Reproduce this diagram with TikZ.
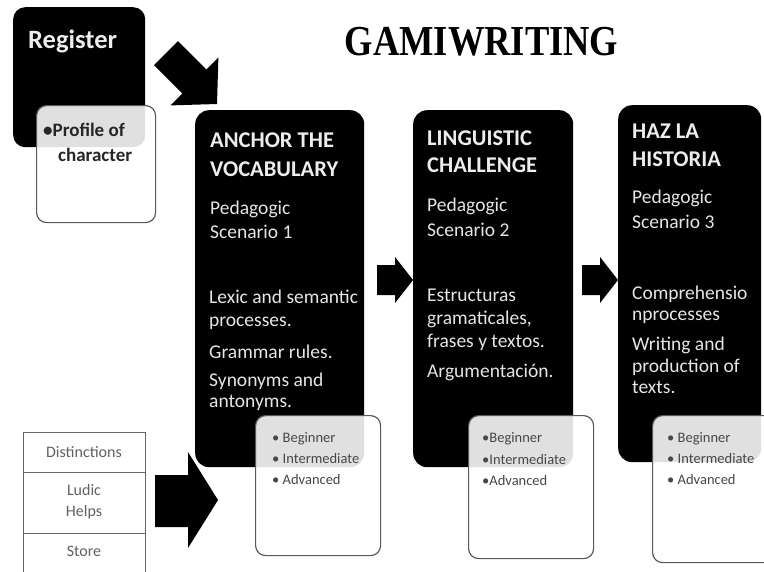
\documentclass[tikz,border=0pt]{standalone}
\usepackage{fontspec}
\setmainfont{Carlito}
\newfontfamily\titlefont{Liberation Serif}
\begin{document}
\begin{tikzpicture}[x=1pt,y=-1pt,
  mainbox/.style={fill=black, rounded corners=14pt, inner sep=0, anchor=north west},
  subbox/.style={draw=black!65, line width=1.2pt, fill=white, fill opacity=0.88, rounded corners=10pt, inner sep=0, anchor=north west},
  stackbox/.style={draw=black!60, line width=1.2pt, fill=white, inner sep=0, anchor=north west, minimum width=122pt},
  hd/.style={font=\fontsize{22.5}{27}\selectfont\bfseries, text=white!93!black, anchor=base west, inner sep=0},
  bd/.style={font=\fontsize{19.5}{24}\selectfont, text=white!90!black, anchor=base west, inner sep=0},
  bl/.style={font=\fontsize{14.5}{18}\selectfont, text=black!72, anchor=base west, inner sep=0},
  pf/.style={font=\fontsize{19}{23}\selectfont\bfseries, text=black!85, anchor=base west, inner sep=0},
  st/.style={font=\fontsize{16}{21}\selectfont, text=black!62, align=center, inner sep=0},
  blockarrow/.style={fill=black}]
\clip (0,0) rectangle (764,571);
\fill[white] (0,0) rectangle (764,571);

% title
\node[anchor=base, inner sep=0] (title) at (481.5,55) {\scalebox{1}[1.17]{\titlefont\fontsize{36.5}{40}\selectfont\bfseries GAMIWRITING}};

% register
\node[mainbox, rounded corners=12pt, minimum width=132pt, minimum height=140pt] (reg) at (13,7) {};
\node[subbox, minimum width=119pt, minimum height=117pt] (prof) at (36,105) {};
\node[font=\fontsize{26.5}{30}\selectfont\bfseries, text=white!93!black, anchor=base west, inner sep=0] (regt) at (28,48) {Register};
\node[pf] (proft1) at (43,136) {\textbullet Profile of};
\node[pf] (proft2) at (58,161) {character};

% main boxes
\node[mainbox, minimum width=169pt, minimum height=357pt] (b1) at (195,110) {};
\node[mainbox, minimum width=160pt, minimum height=357pt] (b2) at (413,110) {};
\node[mainbox, minimum width=143pt, minimum height=357pt] (b3) at (618,105) {};

% sub boxes
\node[subbox, minimum width=125pt, minimum height=140pt] (s1) at (255,415) {};
\node[subbox, minimum width=125pt, minimum height=143pt] (s2) at (468,415) {};
\node[subbox, minimum width=125pt, minimum height=147pt] (s3) at (652,415) {};

% box 1 text
\node[hd] (b1h1) at (210,147) {ANCHOR THE};
\node[hd] (b1h2) at (210,176) {VOCABULARY};
\node[bd] (b1p1) at (210,214) {Pedagogic};
\node[bd] (b1p2) at (210,238) {Scenario 1};
\node[bd] (b1c1) at (209,303) {Lexic and semantic};
\node[bd] (b1c2) at (209,326) {processes.};
\node[bd] (b1c3) at (209,358) {Grammar rules.};
\node[bd] (b1c4) at (209,386) {Synonyms and};
\node[bd] (b1c5) at (209,407) {antonyms.};

% box 2 text
\node[hd] (b2h1) at (427,145) {LINGUISTIC};
\node[hd] (b2h2) at (427,172) {CHALLENGE};
\node[bd] (b2p1) at (427,211) {Pedagogic};
\node[bd] (b2p2) at (427,236) {Scenario 2};
\node[bd] (b2c1) at (427,301) {Estructuras};
\node[bd] (b2c2) at (427,324) {gramaticales,};
\node[bd] (b2c3) at (427,347) {frases y textos.};
\node[bd] (b2c4) at (427,377) {Argumentación.};

% box 3 text
\node[hd] (b3h1) at (632,138) {HAZ LA};
\node[hd] (b3h2) at (632,166) {HISTORIA};
\node[bd] (b3p1) at (632,203) {Pedagogic};
\node[bd] (b3p2) at (632,228) {Scenario 3};
\node[bd] (b3c1) at (632,299) {Comprehensio};
\node[bd] (b3c2) at (632,320) {nprocesses};
\node[bd] (b3c3) at (632,350) {Writing and};
\node[bd] (b3c4) at (632,372) {production of};
\node[bd] (b3c5) at (632,393) {texts.};

% sub box bullets
\node[bl] (s1a) at (272,442) {\textbullet\ Beginner};
\node[bl] (s1b) at (272,463) {\textbullet\ Intermediate};
\node[bl] (s1c) at (272,484) {\textbullet\ Advanced};
\node[bl] (s2a) at (482,442) {\textbullet Beginner};
\node[bl] (s2b) at (482,464) {\textbullet Intermediate};
\node[bl] (s2c) at (482,485) {\textbullet Advanced};
\node[bl] (s3a) at (667,442) {\textbullet\ Beginner};
\node[bl] (s3b) at (667,463) {\textbullet\ Intermediate};
\node[bl] (s3c) at (667,484) {\textbullet\ Advanced};

% left stack
\node[stackbox, minimum height=40pt] (dist) at (23,432) {};
\node[stackbox, minimum height=61pt] (ludic) at (23,472) {};
\node[stackbox, minimum height=60pt] (store) at (23,533) {};
\node[st] (distt) at (84,452) {Distinctions};
\node[st] (ludict) at (84,502) {Ludic\\Helps};
\node[st] (storet) at (84,551) {Store};

% block arrows
\fill[blockarrow] (178,41) -- (206.4,69.4) -- (218.4,57.4) -- (217,104) -- (170.4,105.4) -- (182.4,93.4) -- (154,65) -- cycle;
\fill[blockarrow] (377,265) -- (395,265) -- (395,257) -- (413,280) -- (395,303) -- (395,295) -- (377,295) -- cycle;
\fill[blockarrow] (582,265) -- (600,265) -- (600,257) -- (618,280) -- (600,303) -- (600,295) -- (582,295) -- cycle;
\fill[blockarrow] (155,475) -- (188,475) -- (188,452) -- (218,500) -- (188,548) -- (188,527) -- (155,527) -- cycle;
\end{tikzpicture}
\end{document}
